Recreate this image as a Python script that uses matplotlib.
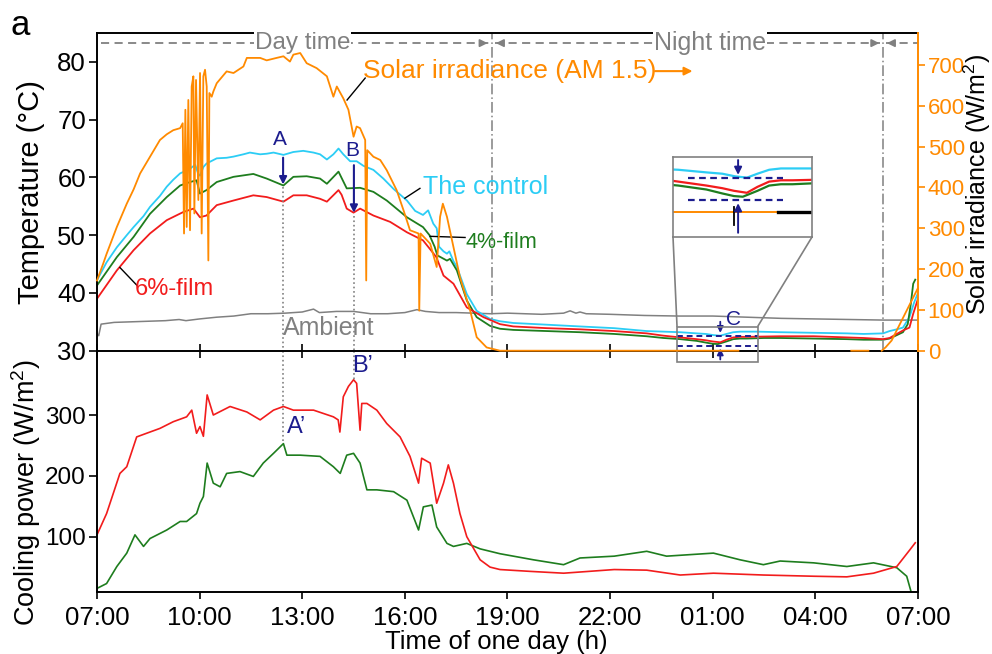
import numpy as np
import matplotlib
matplotlib.use('Agg')
import matplotlib.pyplot as plt
from matplotlib.patches import Rectangle
from matplotlib.lines import Line2D

plt.rcParams['font.family'] = ['Liberation Sans', 'DejaVu Sans']
plt.rcParams['mathtext.fontset'] = 'custom'
plt.rcParams['mathtext.rm'] = 'Liberation Sans'

# ---- data (hours after 07:00, value) ----
control_pts = [(0, 42.2), (0.28, 45.3), (0.58, 47.9), (0.87, 50.0), (1.07, 51.4), (1.36, 53.3),
               (1.55, 54.9), (1.84, 56.8), (2.04, 58.4), (2.23, 59.6), (2.43, 60.7), (2.62, 61.2),
               (2.72, 61.5), (2.87, 62.2), (2.96, 60.6), (3.01, 60.3), (3.11, 61.8), (3.20, 62.4),
               (3.50, 63.3), (3.79, 63.4), (3.99, 63.6), (4.28, 64.0), (4.47, 64.3), (4.77, 64.0),
               (4.96, 64.1), (5.16, 64.3), (5.45, 63.9), (5.74, 64.4), (6.03, 64.6), (6.33, 64.3),
               (6.52, 64.0), (6.72, 63.1), (6.91, 64.0), (7.06, 65.0), (7.20, 64.0), (7.40, 62.8),
               (7.59, 62.8), (7.79, 62.0), (8.08, 61.3), (8.37, 59.8), (8.67, 58.0), (9.06, 56.0),
               (9.30, 54.2), (9.53, 53.5), (9.68, 54.3), (9.83, 52.0), (9.93, 51.2), (10.00, 48.0),
               (10.13, 47.2), (10.23, 46.8), (10.30, 47.2), (10.42, 45.5), (10.52, 44.5), (10.81, 39.8),
               (11.10, 36.9), (11.49, 35.5), (11.78, 35.1), (12.17, 34.8), (13.15, 34.5), (14.12, 34.2),
               (15.12, 33.9), (16.07, 33.4), (16.56, 33.3), (17.05, 33.2), (17.53, 33.0), (17.80, 32.9),
               (18.02, 32.7), (18.22, 32.6), (18.40, 32.9), (18.60, 33.2), (18.80, 33.3), (19.00, 33.3),
               (19.30, 33.3), (19.97, 33.2), (20.95, 33.1), (21.92, 33.0), (22.41, 32.9), (22.98, 33.0),
               (23.17, 33.4), (23.38, 33.7), (23.56, 34.0), (23.75, 35.8), (23.89, 38.4), (24.0, 40.0)]

film4_pts = [(0, 41.3), (0.58, 46.2), (1.07, 49.7), (1.55, 53.7), (2.04, 56.6), (2.43, 58.6),
             (2.72, 59.2), (2.91, 59.5), (3.01, 57.2), (3.20, 57.8), (3.50, 59.2), (3.99, 60.1),
             (4.57, 60.6), (4.96, 59.8), (5.45, 58.6), (5.74, 60.1), (6.13, 60.2), (6.52, 59.8),
             (6.72, 58.9), (7.06, 61.0), (7.30, 58.1), (7.69, 58.2), (8.08, 57.5), (8.47, 56.0),
             (9.06, 53.1), (9.53, 51.4), (9.72, 50.0), (9.87, 48.0), (9.95, 46.5), (10.23, 45.6),
             (10.32, 45.9), (10.52, 43.9), (10.81, 38.7), (11.10, 35.8), (11.49, 34.3), (11.78, 33.8),
             (12.17, 33.6), (13.15, 33.4), (14.12, 33.2), (15.12, 32.9), (16.07, 32.5), (16.56, 32.2),
             (17.05, 32.0), (17.53, 31.7), (17.80, 31.4), (18.00, 31.2), (18.15, 31.15), (18.40, 31.6),
             (18.60, 32.0), (18.80, 32.1), (19.00, 32.1), (19.50, 32.2), (19.97, 32.2), (20.95, 32.1),
             (21.92, 32.0), (22.41, 31.9), (22.98, 31.9), (23.17, 32.1), (23.56, 33.2), (23.70, 34.6),
             (23.79, 38.1), (23.86, 41.6), (23.92, 42.3)]

film6_pts = [(0, 39.0), (0.58, 43.9), (1.07, 47.4), (1.55, 50.3), (2.04, 52.6), (2.52, 54.0),
             (2.82, 54.6), (3.01, 53.1), (3.20, 53.4), (3.50, 55.2), (3.99, 56.0), (4.57, 56.9),
             (4.96, 56.6), (5.45, 55.8), (5.74, 56.9), (6.13, 56.9), (6.52, 56.3), (6.72, 55.8),
             (7.06, 57.8), (7.15, 57.0), (7.30, 54.6), (7.50, 53.9), (7.69, 54.6), (8.08, 53.4),
             (8.57, 52.3), (9.06, 50.5), (9.53, 49.1), (9.72, 47.7), (9.92, 46.2), (10.13, 43.0),
             (10.42, 41.6), (10.81, 37.5), (11.30, 35.8), (11.78, 34.6), (12.17, 34.2), (13.15, 33.9),
             (14.12, 33.7), (15.12, 33.4), (16.07, 33.0), (16.56, 32.6), (17.05, 32.3), (17.53, 32.0),
             (17.80, 31.8), (18.00, 31.6), (18.22, 31.45), (18.40, 31.9), (18.60, 32.3), (18.80, 32.4),
             (19.00, 32.4), (19.97, 32.5), (20.95, 32.5), (21.92, 32.3), (22.41, 32.2), (22.98, 32.0),
             (23.17, 32.2), (23.56, 33.5), (23.75, 34.0), (23.86, 36.4), (24.0, 39.0)]

ambient_pts = [(0, 33.0), (0.05, 32.6), (0.12, 34.6), (0.5, 34.9), (1.0, 35.0), (1.5, 35.1),
               (2.0, 35.2), (2.4, 35.4), (2.6, 35.2), (3.0, 35.5), (3.5, 35.8), (4.0, 36.0),
               (4.5, 36.4), (5.0, 36.4), (5.5, 36.5), (6.0, 36.7), (6.33, 37.2), (6.5, 36.6),
               (7.0, 36.8), (7.5, 36.8), (8.0, 36.4), (8.5, 36.4), (9.0, 36.6), (9.35, 37.1),
               (9.6, 36.8), (10.0, 36.6), (10.5, 36.6), (11.0, 36.5), (11.5, 36.4), (12.0, 36.5),
               (12.5, 36.4), (13.0, 36.3), (13.64, 36.5), (13.83, 36.9), (14.0, 36.5), (14.12, 36.7),
               (14.3, 36.4), (15.0, 36.3), (16.0, 36.1), (17.0, 36.0), (18.0, 36.0), (19.0, 35.8),
               (20.0, 35.6), (21.0, 35.5), (22.0, 35.4), (23.0, 35.3), (24.0, 35.3)]

solar_pts = [(0, 172), (0.18, 213), (0.28, 237), (0.58, 303), (0.87, 360), (1.07, 395), (1.26, 434),
             (1.55, 475), (1.84, 516), (2.04, 530), (2.23, 540), (2.43, 545), (2.505, 557), (2.544, 287),
             (2.583, 590), (2.622, 303), (2.670, 614), (2.719, 295), (2.768, 647), (2.817, 672),
             (2.846, 336), (2.895, 663), (2.963, 369), (3.012, 680), (3.060, 287), (3.109, 672),
             (3.158, 688), (3.207, 647), (3.255, 221), (3.285, 631), (3.353, 622), (3.402, 635),
             (3.50, 655), (3.79, 684), (3.99, 680), (4.28, 696), (4.38, 717), (4.77, 717), (4.96, 711),
             (5.25, 717), (5.45, 721), (5.64, 708), (5.74, 725), (5.94, 729), (6.13, 704), (6.42, 692),
             (6.72, 672), (6.91, 622), (7.01, 647), (7.20, 618), (7.35, 590), (7.50, 524), (7.59, 549),
             (7.69, 545), (7.84, 516), (7.87, 172), (7.90, 491), (8.08, 475), (8.28, 467), (8.47, 442),
             (8.76, 393), (8.96, 344), (9.15, 295), (9.40, 287), (9.42, 98), (9.46, 287), (9.74, 262),
             (9.93, 205), (10.03, 328), (10.11, 360), (10.23, 328), (10.42, 254), (10.61, 180),
             (10.91, 98), (11.10, 33), (11.39, 8), (11.78, 0), (18.75, 0), (18.76, np.nan),
             (22.05, 0), (22.55, 0), (22.56, np.nan), (22.94, 0), (23.05, 8), (23.23, 25), (23.99, 152)]

cool6_pts = [(0, 103), (0.28, 138), (0.67, 204), (0.87, 215), (1.16, 264), (1.45, 270), (1.84, 278),
             (2.23, 289), (2.62, 297), (2.77, 308), (2.91, 270), (3.01, 281), (3.11, 265), (3.22, 333),
             (3.40, 300), (3.89, 314), (4.38, 305), (4.77, 292), (5.16, 308), (5.45, 314), (5.74, 308),
             (6.33, 308), (6.91, 297), (7.05, 292), (7.10, 272), (7.20, 330), (7.35, 347), (7.50, 358),
             (7.59, 352), (7.69, 275), (7.74, 319), (7.89, 319), (8.18, 308), (8.47, 286), (8.86, 264),
             (9.15, 232), (9.40, 188), (9.49, 229), (9.74, 221), (9.93, 155), (10.13, 188), (10.27, 218),
             (10.42, 188), (10.61, 138), (10.81, 100), (11.20, 62), (11.49, 50), (11.78, 46), (12.66, 43),
             (13.64, 40), (15.12, 46), (16.07, 45), (17.05, 37), (18.02, 40), (19.48, 37), (20.95, 35),
             (21.92, 34), (22.70, 40), (23.38, 51), (23.77, 79), (23.92, 90)]

cool4_pts = [(0, 15), (0.28, 23), (0.58, 51), (0.87, 73), (1.11, 103), (1.36, 84), (1.55, 97),
             (2.04, 111), (2.43, 125), (2.62, 125), (2.91, 138), (3.01, 155), (3.11, 166), (3.22, 221),
             (3.40, 188), (3.60, 182), (3.79, 204), (4.18, 207), (4.57, 199), (4.86, 221), (5.16, 237),
             (5.45, 253), (5.55, 234), (5.94, 234), (6.52, 232), (6.91, 215), (7.11, 204), (7.30, 234),
             (7.50, 237), (7.69, 221), (7.89, 177), (8.18, 177), (8.67, 174), (9.06, 160), (9.40, 111),
             (9.54, 149), (9.79, 152), (9.93, 116), (10.23, 89), (10.42, 84), (10.81, 89), (11.20, 80),
             (11.78, 72), (12.76, 62), (13.64, 54), (14.12, 65), (15.12, 68), (16.07, 76), (16.65, 68),
             (18.02, 73), (18.80, 62), (19.48, 54), (19.97, 60), (20.95, 57), (21.92, 51), (22.70, 57),
             (23.38, 49), (23.67, 35), (23.82, 5)]

tick_hours = [0, 3, 6, 9, 12, 15, 18, 21, 24]
tick_labels = ['07:00', '10:00', '13:00', '16:00', '19:00', '22:00', '01:00', '04:00', '07:00']

CYAN = '#2ccdf5'
GREEN = '#1e7d1e'
RED = '#f21c1c'
ORANGE = '#ff8a00'
GRAY = '#808080'
NAVY = '#1c1c8e'


def xy(pts):
    a = np.array(pts, dtype=float)
    return a[:, 0], a[:, 1]


W, H = 992, 654


def frac(x0, y0, x1, y1):
    return [x0 / W, 1 - y1 / H, (x1 - x0) / W, (y1 - y0) / H]


fig = plt.figure(figsize=(9.92, 6.54), dpi=100)
axb = fig.add_axes(frac(97, 350.7, 918, 592.3))
ax1 = fig.add_axes(frac(97, 33, 918, 350.7))
ax2 = ax1.twinx()

# ---- top panel: temperatures ----
ax1.plot(*xy(ambient_pts), color=GRAY, lw=1.1)
ax1.plot(*xy(control_pts), color=CYAN, lw=1.3)
ax1.plot(*xy(film4_pts), color=GREEN, lw=1.3)
ax1.plot(*xy(film6_pts), color=RED, lw=1.3)
ax1.set_xlim(0, 24)
ax1.set_ylim(30, 85)
ax1.set_xticks(tick_hours)
ax1.set_yticks([30, 40, 50, 60, 70, 80])
ax1.tick_params(axis='x', direction='inout', length=10, width=1.2, labelbottom=False)
ax1.tick_params(axis='y', direction='out', length=6, width=1.2, labelsize=18.5, pad=2)
ax1.spines['right'].set_visible(False)
for s in ['left', 'top', 'bottom']:
    ax1.spines[s].set_linewidth(1.4)
ax1.set_ylabel('Temperature (°C)', fontsize=21)
ax1.yaxis.set_label_coords(-0.063, 0.5)

# solar irradiance on the right axis
ax2.plot(*xy(solar_pts), color=ORANGE, lw=1.3, clip_on=False, zorder=5)
ax2.set_ylim(0, 778)
ax2.set_yticks(range(0, 701, 100))
ax2.tick_params(axis='y', colors=ORANGE, direction='out', length=5, width=1.2, labelsize=16, pad=2)
for s in ['left', 'top', 'bottom']:
    ax2.spines[s].set_visible(False)
ax2.spines['right'].set_color(ORANGE)
ax2.spines['right'].set_linewidth(1.4)
ax2.set_ylabel('Solar irradiance (W/m$\\mathregular{^2}$)', fontsize=18)
ax2.yaxis.set_label_coords(1.053, 0.525)

# day / night markers
for xv in [11.54, 22.98]:
    ax1.plot([xv, xv], [30, 85], color=GRAY, lw=1.1, ls=(0, (7, 2, 1, 2)))
yd = 83.25
for x0, x1 in [(0.13, 11.45), (11.63, 22.9), (23.06, 24.0)]:
    ax1.plot([x0, x1], [yd, yd], color=GRAY, lw=1.3, ls=(0, (4.5, 3)))
for tip, tail in [(11.5, 11.2), (11.58, 11.88), (22.95, 22.65), (23.01, 23.31)]:
    ax1.annotate('', xy=(tip, yd), xytext=(tail, yd),
                 arrowprops=dict(arrowstyle='-|>', color=GRAY, lw=1.3, mutation_scale=11))
ax1.text(6.02, yd, 'Day time', color=GRAY, fontsize=17.5, ha='center', va='center',
         bbox=dict(facecolor='white', edgecolor='none', pad=0.5))
ax1.text(17.92, yd, 'Night time', color=GRAY, fontsize=18, ha='center', va='center',
         bbox=dict(facecolor='white', edgecolor='none', pad=0.5))

# curve labels
ax1.text(7.78, 78.4, 'Solar irradiance (AM 1.5)', color=ORANGE, fontsize=19, va='center')
ax1.annotate('', xy=(17.49, 78.4), xytext=(16.23, 78.4),
             arrowprops=dict(arrowstyle='-|>', color=ORANGE, lw=1.5, mutation_scale=12))
ax1.plot([7.84, 7.31], [77.2, 73.4], color='black', lw=1)
ax1.text(9.53, 58.3, 'The control', color=CYAN, fontsize=18, va='center')
ax1.plot([9.44, 9.0], [58.1, 56.4], color='black', lw=1)
ax1.text(10.76, 48.7, '4%-film', color=GREEN, fontsize=15.5, va='center')
ax1.plot([9.74, 10.76], [49.8, 49.6], color='black', lw=1)
ax1.text(1.11, 40.6, '6%-film', color=RED, fontsize=17, va='center')
ax1.plot([0.67, 1.17], [44.4, 41.3], color='black', lw=1)
ax1.text(5.44, 34.0, 'Ambient', color=GRAY, fontsize=18, va='center')

# A / B markers
ax1.text(5.35, 66.5, 'A', color=NAVY, fontsize=15, ha='center', va='center')
ax1.annotate('', xy=(5.44, 58.3), xytext=(5.44, 63.9),
             arrowprops=dict(arrowstyle='-|>', color=NAVY, lw=1.5, mutation_scale=11))
ax1.text(7.46, 64.7, 'B', color=NAVY, fontsize=15, ha='center', va='center')
ax1.annotate('', xy=(7.51, 53.4), xytext=(7.51, 62.6),
             arrowprops=dict(arrowstyle='-|>', color=NAVY, lw=1.5, mutation_scale=11))
ax1.plot([5.44, 5.44], [58.3, 30], color=GRAY, lw=1.2, ls=':')
ax1.plot([7.51, 7.51], [53.4, 30], color=GRAY, lw=1.2, ls=':')

# C marker and zoom box
ax1.text(18.6, 35.45, 'C', color=NAVY, fontsize=15, ha='center', va='center')
ax1.plot([16.96, 19.33], [32.6, 32.6], color=NAVY, lw=1.4, ls=(0, (3, 2)), clip_on=False)
ax1.plot([16.96, 19.33], [30.87, 30.87], color=NAVY, lw=1.4, ls=(0, (3, 2)), clip_on=False)
ax1.annotate('', xy=(18.22, 32.6), xytext=(18.22, 35.5), annotation_clip=False,
             arrowprops=dict(arrowstyle='-|>', color=NAVY, lw=1.3, mutation_scale=9))
ax1.annotate('', xy=(18.22, 30.87), xytext=(18.22, 28.0), annotation_clip=False,
             arrowprops=dict(arrowstyle='-|>', color=NAVY, lw=1.3, mutation_scale=9))
ax1.add_patch(Rectangle((16.96, 28.09), 2.37, 6.08, fill=False, edgecolor=GRAY, lw=1.2,
                        clip_on=False, zorder=6))
fig.add_artist(Line2D([677 / W, 673 / W], [1 - 326 / H, 1 - 237 / H], color=GRAY, lw=1.2))
fig.add_artist(Line2D([758 / W, 812 / W], [1 - 326 / H, 1 - 237 / H], color=GRAY, lw=1.2))

# ---- bottom panel: cooling power ----
axb.plot(*xy(cool4_pts), color=GREEN, lw=1.2)
axb.plot(*xy(cool6_pts), color=RED, lw=1.2)
axb.plot([5.44, 5.44], [405.7, 255], color=GRAY, lw=1.2, ls=':')
axb.plot([7.51, 7.51], [405.7, 358], color=GRAY, lw=1.2, ls=':')
axb.text(5.56, 262, "A\u2019", color=NAVY, fontsize=17, ha='left', va='bottom',
         family=['Liberation Sans Narrow', 'Liberation Sans'])
axb.text(7.47, 362, "B\u2019", color=NAVY, fontsize=17, ha='left', va='bottom',
         family=['Liberation Sans Narrow', 'Liberation Sans'])
axb.set_xlim(0, 24)
axb.set_ylim(8.6, 405.7)
axb.set_yticks([100, 200, 300])
axb.set_xticks(tick_hours)
axb.set_xticklabels(tick_labels)
axb.tick_params(axis='x', direction='out', length=5, width=1.2, labelsize=18.5, pad=5)
axb.tick_params(axis='y', direction='out', length=6, width=1.2, labelsize=17.5, pad=2)
axb.spines['top'].set_visible(False)
for s in ['left', 'right', 'bottom']:
    axb.spines[s].set_linewidth(1.4)
axb.set_ylabel('Cooling power (W/m$\\mathregular{^2}$)', fontsize=19.5)
axb.yaxis.set_label_coords(-0.066, 0.411)
axb.set_xlabel('Time of one day (h)', fontsize=18.5)
axb.xaxis.set_label_coords(0.486, -0.156)

# ---- zoomed inset around C ----
axi = fig.add_axes(frac(673, 157, 812, 237))
axi.plot(*xy(control_pts), color=CYAN, lw=1.6)
axi.plot(*xy(film4_pts), color=GREEN, lw=1.6)
axi.plot(*xy(film6_pts), color=RED, lw=1.6)
axi.plot([16.96, 18.75], [30, 30], color=ORANGE, lw=1.4)
axi.plot([18.75, 19.33], [30, 30], color='black', lw=2.4)
axi.plot([18.0, 18.0], [29.0, 30.4], color='black', lw=1.3)
axi.plot([17.22, 18.83], [32.6, 32.6], color=NAVY, lw=1.6, ls=(0, (3, 2)))
axi.plot([17.22, 18.83], [30.87, 30.87], color=NAVY, lw=1.6, ls=(0, (3, 2)))
axi.annotate('', xy=(18.07, 32.6), xytext=(18.07, 34.15),
             arrowprops=dict(arrowstyle='-|>', color=NAVY, lw=1.4, mutation_scale=11))
axi.annotate('', xy=(18.07, 30.87), xytext=(18.07, 28.2),
             arrowprops=dict(arrowstyle='-|>', color=NAVY, lw=1.4, mutation_scale=11))
axi.set_xlim(16.96, 19.33)
axi.set_ylim(28.09, 34.17)
axi.set_xticks([])
axi.set_yticks([])
for s in axi.spines.values():
    s.set_edgecolor(GRAY)
    s.set_linewidth(1.2)

fig.text(10 / W, 1 - 35 / H, 'a', fontsize=25, va='baseline')

fig.savefig('out.png', dpi=100)
